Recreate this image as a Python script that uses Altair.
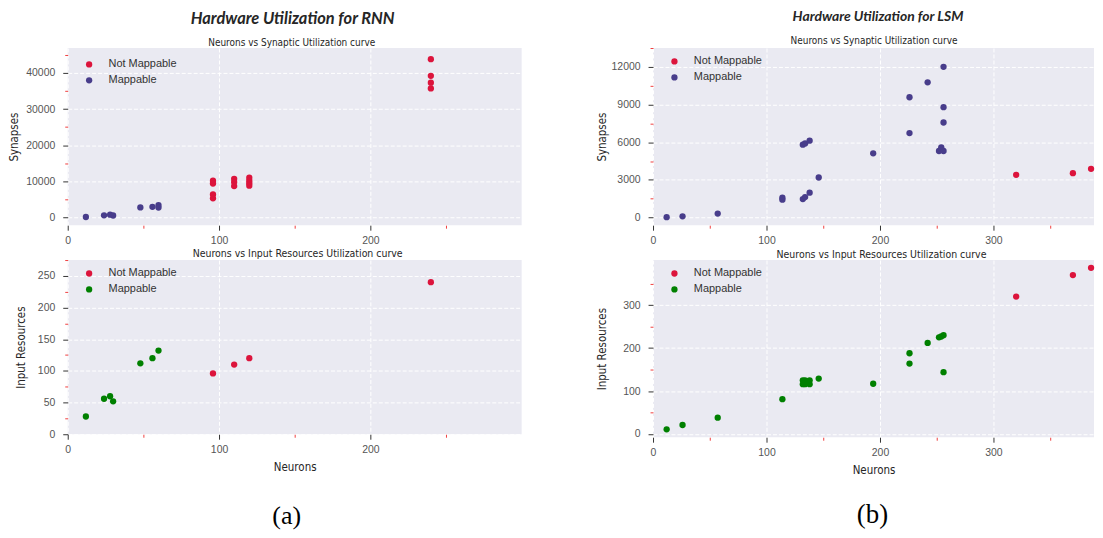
import altair as alt
import pandas as pd

# ---------------- data ----------------
status_order = ["Not Mappable", "Mappable"]

rnn_syn_neurons = [12, 24, 28, 30, 48, 56, 60, 60,
                   96, 96, 96, 96, 110, 110, 110, 120, 120, 120, 120, 240, 240, 240, 240]
rnn_syn_values = [150, 620, 800, 560, 2800, 2950, 3450, 2750,
                  10200, 9400, 6400, 5300, 10700, 9800, 8700, 11000, 10200, 9500, 8800,
                  43800, 39200, 37300, 35700]
rnn_syn_status = ["Mappable"] * 8 + ["Not Mappable"] * 15

rnn_inp_neurons = [12, 24, 28, 30, 48, 56, 60, 96, 110, 120, 240]
rnn_inp_values = [28, 56, 60, 52, 112, 120, 132, 96, 110, 120, 240]
rnn_inp_status = ["Mappable"] * 7 + ["Not Mappable"] * 4

lsm_syn_neurons = [12, 26, 57, 114, 114, 132, 134, 138, 146, 132, 134, 138, 194,
                   226, 226, 242, 256, 256, 256, 252, 254, 256, 320, 370, 386]
lsm_syn_values = [30, 100, 320, 1580, 1420, 1470, 1630, 1980, 3190, 5800, 5900, 6120, 5110,
                  9580, 6730, 10770, 12000, 8790, 7570, 5300, 5590, 5300, 3400, 3530, 3880]
lsm_syn_status = ["Mappable"] * 22 + ["Not Mappable"] * 3

lsm_inp_neurons = [12, 26, 57, 114, 132, 132, 134, 134, 138, 138, 146, 194,
                   226, 226, 242, 252, 254, 256, 256, 320, 370, 386]
lsm_inp_values = [11, 21, 38, 81, 125, 116, 125, 116, 125, 116, 129, 117,
                  188, 164, 212, 225, 227, 230, 144, 320, 370, 387]
lsm_inp_status = ["Mappable"] * 19 + ["Not Mappable"] * 3

rnn_x_ticks = [0, 50, 100, 150, 200, 250]
lsm_x_ticks = [0, 50, 100, 150, 200, 250, 300, 350]
rnn_syn_ticks = [0, 5000, 10000, 15000, 20000, 25000, 30000, 35000, 40000, 45000]
rnn_inp_ticks = [0, 25, 50, 75, 100, 125, 150, 175, 200, 225, 250, 275]
lsm_syn_ticks = [0, 1500, 3000, 4500, 6000, 7500, 9000, 10500, 12000, 13500]
lsm_inp_ticks = [0, 50, 100, 150, 200, 250, 300, 350]

# ---------------- style ----------------
NARROW = "Liberation Sans Narrow, DejaVu Sans Condensed, Arial Narrow, sans-serif"
SANS = "Liberation Sans, Arial, sans-serif"
SERIF = "Liberation Serif, DejaVu Serif, serif"
TITLE_FONT = "Lato, Open Sans, sans-serif"
RED = "#DC143C"
MINOR = "#f04040"


def make_axis(values, major, title=None, title_pos=None, is_x=True):
    minor_test = f"datum.value % {major} !== 0"
    kw = dict(
        values=values,
        format="d",
        labelExpr=f"datum.value % {major} === 0 ? datum.label : ''",
        labelFlush=False,
        labelOverlap=False,
        labelPadding=5 if is_x else 8,
        tickColor={"condition": {"test": minor_test, "value": MINOR}, "value": "#333333"},
        tickSize={"condition": {"test": minor_test, "value": 3}, "value": 5},
        gridOpacity={"condition": {"test": minor_test, "value": 0}, "value": 1},
        gridColor="white",
        gridDash=[4, 2],
        gridWidth=1,
        domain=False,
        title=title,
    )
    if title is not None:
        kw["titleBaseline"] = "alphabetic"
        if is_x:
            kw["titleY"] = title_pos
        else:
            kw["titleX"] = title_pos
    return alt.Axis(**kw)


def text_layer(txt, x, y, font, size, weight="normal", style="normal", color="#262626"):
    return alt.Chart(pd.DataFrame({"t": [txt]})).mark_text(
        font=font, fontSize=size, fontWeight=weight, fontStyle=style, color=color,
        align="center", baseline="alphabetic",
    ).encode(x=alt.value(x), y=alt.value(y), text="t:N")


def panel(neurons, values, status, mapp_color, xdom, ydom, xticks, xmajor, yticks, ymajor,
          ytitle, ytitle_x, xtitle, width, height, legend_y, extra):
    df = pd.DataFrame({"Neurons": neurons, "Value": values, "Status": status})
    pts = alt.Chart(df).mark_circle(size=40, opacity=1).encode(
        x=alt.X("Neurons:Q",
                scale=alt.Scale(domain=xdom, nice=False, zero=False),
                axis=make_axis(xticks, xmajor, xtitle, 36.5, True)),
        y=alt.Y("Value:Q",
                scale=alt.Scale(domain=ydom, nice=False, zero=False),
                axis=make_axis(yticks, ymajor, ytitle, ytitle_x, False)),
        color=alt.Color("Status:N",
                        scale=alt.Scale(domain=status_order, range=[RED, mapp_color]),
                        legend=alt.Legend(title=None, orient="none", legendX=16, legendY=legend_y,
                                          symbolType="circle", symbolSize=40,
                                          symbolStrokeWidth=0, labelFont=SANS,
                                          labelFontSize=11, labelColor="#333333",
                                          labelOffset=14, rowPadding=4, padding=0)),
    )
    return alt.layer(pts, *extra).properties(width=width, height=height)


anchor = alt.Chart(pd.DataFrame({"a": [0]})).mark_rule(strokeOpacity=0, strokeWidth=1).encode(
    x=alt.value(-59.5), y=alt.value(-38.5), y2=alt.value(-30))

# RNN synapses (plot made 3px taller at the top so that rows line up)
rnn_top = panel(rnn_syn_neurons, rnn_syn_values, rnn_syn_status, "#483D8B",
                [0, 300], [-2120, 46880], rnn_x_ticks, 100, rnn_syn_ticks, 10000,
                "Synapses", -50, None, 456, 178, 11,
                [text_layer("Neurons vs Synaptic Utilization curve", 225, -2.5, NARROW, 10),
                 text_layer("Hardware Utilization for RNN", 226, -24, TITLE_FONT, 16.5,
                            "bold", "italic"),
                 anchor])

rnn_bot = panel(rnn_inp_neurons, rnn_inp_values, rnn_inp_status, "#008000",
                [0, 300], [0, 275], rnn_x_ticks, 100, rnn_inp_ticks, 50,
                "Input Resources", -43.5, "Neurons", 456, 175, 8,
                [text_layer("Neurons vs Input Resources Utilization curve", 231, -3, NARROW, 10.5),
                 text_layer("(a)", 220, 175 + 90, SERIF, 26, color="black")])

lsm_top = panel(lsm_syn_neurons, lsm_syn_values, lsm_syn_status, "#483D8B",
                [0, 388.6], [-610, 13500], lsm_x_ticks, 100, lsm_syn_ticks, 3000,
                "Synapses", -48, None, 443, 178, 8,
                [text_layer("Neurons vs Synaptic Utilization curve", 222, -4, NARROW, 10),
                 text_layer("Hardware Utilization for LSM", 226, -27, TITLE_FONT, 14,
                            "bold", "italic")])

lsm_bot = panel(lsm_inp_neurons, lsm_inp_values, lsm_inp_status, "#008000",
                [0, 388.6], [-7.5, 405], lsm_x_ticks, 100, lsm_inp_ticks, 100,
                "Input Resources", -48, "Neurons", 443, 178, 8,
                [text_layer("Neurons vs Input Resources Utilization curve", 229.5, -2.5, NARROW, 10.5),
                 text_layer("(b)", 220.5, 178 + 86, SERIF, 27, color="black")])

chart = alt.concat(
    rnn_top, lsm_top, rnn_bot, lsm_bot,
    columns=2, spacing={"row": 35, "column": 132}, bounds="flush",
).resolve_scale(color="independent").resolve_legend(color="independent").properties(
    padding=0, background="white"
).configure_view(fill="#EAEAF2", strokeWidth=0).configure_axis(
    labelFont=SANS, labelFontSize=10.5, labelColor="#555555",
    titleFont=NARROW, titleFontSize=11.5, titleFontWeight="normal", titleColor="#262626",
)

chart.save("out.html", embed_options={"renderer": "svg", "actions": False})
